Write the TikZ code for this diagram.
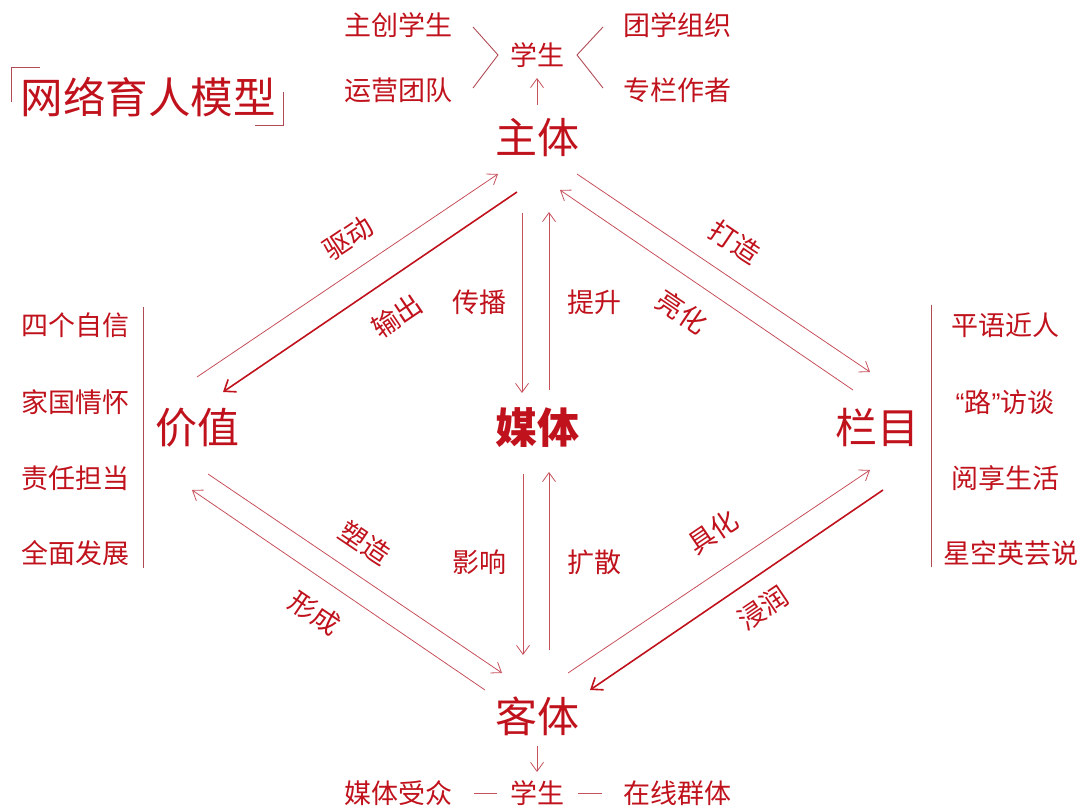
\documentclass[tikz,border=0pt]{standalone}
\usepackage{fontspec}
\setmainfont{Noto Sans CJK SC}
\newfontfamily\latq{Liberation Sans}
\usetikzlibrary{arrows.meta}
\definecolor{rd}{HTML}{C0121C}
\definecolor{ln}{HTML}{C6505C}
\definecolor{br}{HTML}{B04A55}
\begin{document}
\begin{tikzpicture}[x=1pt,y=-1pt,
  lbl/.style={text=rd,inner sep=0pt,font=\fontsize{27}{30}\selectfont},
  big/.style={text=rd,inner sep=0pt,font=\fontsize{42}{48}\selectfont},
  thinar/.style={draw=ln,line width=0.8pt,-{Straight Barb[length=9pt,width=13pt]}},
  thickar/.style={draw=rd,line width=1.6pt,-{Straight Barb[length=10pt,width=15pt]}},
  fine/.style={draw=br,line width=0.9pt}]
\useasboundingbox (0,0) rectangle (1087,810);
% title
\node[text=rd,inner sep=0pt,font=\fontsize{42.5}{48}\selectfont] (title) at (148,97) {网络育人模型};
\draw[fine] (40,67) -- (11,67) -- (11,102);
\draw[fine] (255,125) -- (283,125) -- (283,92);
% main nodes
\node[big] (zhu) at (537,138) {主体};
\node[big] (jia) at (197,428) {价值};
\node[big,font=\fontsize{42}{48}\selectfont\bfseries] (mei) at (537,428) {媒体};
\node[big] (lan) at (877,428) {栏目};
\node[big] (ke) at (537,716) {客体};
% top cluster
\node[lbl] (xs1) at (537,55) {学生};
\node[lbl] (zc) at (398,25) {主创学生};
\node[lbl] (yy) at (398,90) {运营团队};
\node[lbl] (tx) at (677,25) {团学组织};
\node[lbl] (zl) at (677,90) {专栏作者};
\draw[fine] (473,27) -- (498,55) -- (473,88);
\draw[fine] (603,27) -- (577,55) -- (603,88);
\coordinate (u1) at (537,105);
\coordinate (u2) at (537,78);
\draw[thinar] (u1) -- (u2);
% bottom cluster
\coordinate (d1) at (537,746);
\coordinate (d2) at (537,772);
\draw[thinar] (d1) -- (d2);
\node[lbl] (mt) at (398,793) {媒体受众};
\node[lbl] (xs2) at (537,793) {学生};
\node[lbl] (zx) at (677,793) {在线群体};
\draw[draw=ln,line width=0.9pt] (474,793) -- (497,793);
\draw[draw=ln,line width=0.9pt] (578,793) -- (602,793);
% left list
\node[lbl] (l1) at (75,325) {四个自信};
\node[lbl] (l2) at (75,402) {家国情怀};
\node[lbl] (l3) at (75,478) {责任担当};
\node[lbl] (l4) at (75,553) {全面发展};
\draw[fine] (143,307) -- (143,568);
% right list
\node[lbl] (r1) at (1005,325) {平语近人};
\node[lbl] (r2) at (1005,402) {{\latq “}路{\latq ”}访谈};
\node[lbl] (r3) at (1005,478) {阅享生活};
\node[lbl] (r4) at (1011,553) {星空英芸说};
\draw[fine] (931,305) -- (931,567);
% connector end points
\coordinate (a1) at (197,377); \coordinate (a2) at (498,174);
\coordinate (b1) at (517,192); \coordinate (b2) at (223,392);
\coordinate (c1) at (522,213); \coordinate (c2) at (522,393);
\coordinate (e1) at (549,390); \coordinate (e2) at (549,212);
\coordinate (f1) at (853,390); \coordinate (f2) at (560,190);
\coordinate (g1) at (577,174); \coordinate (g2) at (870,372);
\coordinate (h1) at (208,474); \coordinate (h2) at (502,673);
\coordinate (i1) at (485,690); \coordinate (i2) at (192,490);
\coordinate (j1) at (523,474); \coordinate (j2) at (523,655);
\coordinate (k1) at (549,650); \coordinate (k2) at (549,472);
\coordinate (m1) at (568,673); \coordinate (m2) at (870,470);
\coordinate (n1) at (883,490); \coordinate (n2) at (590,690);
\draw[thinar] (a1) -- (a2);
\draw[thickar] (b1) -- (b2);
\draw[thinar] (c1) -- (c2);
\draw[thinar] (e1) -- (e2);
\draw[thinar] (f1) -- (f2);
\draw[thinar] (g1) -- (g2);
\draw[thinar] (h1) -- (h2);
\draw[thinar] (i1) -- (i2);
\draw[thinar] (j1) -- (j2);
\draw[thinar] (k1) -- (k2);
\draw[thinar] (m1) -- (m2);
\draw[thickar] (n1) -- (n2);
% connector labels
\node[lbl,rotate=34] (t1) at (348,238) {驱动};
\node[lbl,rotate=34] (t2) at (397,316) {输出};
\node[lbl] (t3) at (479,302) {传播};
\node[lbl] (t4) at (594,302) {提升};
\node[lbl,rotate=-34] (t5) at (682,312) {亮化};
\node[lbl,rotate=-34] (t6) at (735,242) {打造};
\node[lbl,rotate=-34] (t7) at (365,543) {塑造};
\node[lbl,rotate=-34] (t8) at (315,613) {形成};
\node[lbl] (t9) at (479,562) {影响};
\node[lbl] (t10) at (594,562) {扩散};
\node[lbl,rotate=34] (t11) at (713,532) {具化};
\node[lbl,rotate=34] (t12) at (763,608) {浸润};
\end{tikzpicture}
\end{document}
